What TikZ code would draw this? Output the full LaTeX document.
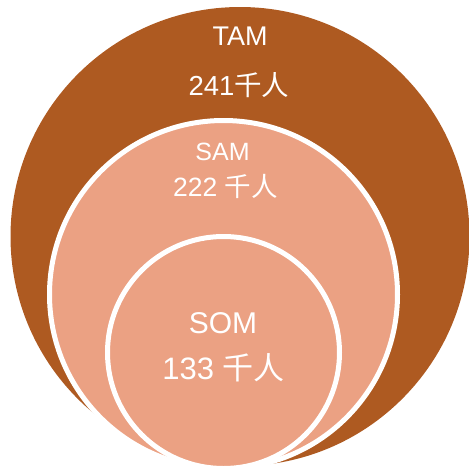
\documentclass[tikz,border=0pt]{standalone}
\usepackage{fontspec}
\setmainfont{Liberation Sans}
\newfontfamily\cjk{Noto Sans CJK SC}
\definecolor{tamc}{RGB}{174,90,33}
\definecolor{samc}{RGB}{235,161,131}
\begin{document}
\begin{tikzpicture}[x=1pt,y=-1pt,
  ring/.style={draw=white,line width=5pt},
  lbl/.style={text=white,anchor=base,inner sep=0pt}]
\useasboundingbox (0,0) rectangle (469,466);
\clip (0,0) rectangle (469,466);
\fill[tamc] (240,236.5) circle[radius=229.5];
\filldraw[fill=samc,ring] (223.5,294.5) circle[radius=174];
\filldraw[fill=samc,ring] (223.5,352.5) circle[radius=116];
\node[lbl,font=\fontsize{27}{30}\selectfont] (tam) at (240,45) {TAM};
\node[lbl,font=\fontsize{27.5}{30}\selectfont] (tamv) at (239,95) {241{\cjk 千人}};
\node[lbl,font=\fontsize{25}{28}\selectfont] (sam) at (222.5,160) {SAM};
\node[lbl,font=\fontsize{26.5}{29}\selectfont] (samv) at (225.5,196) {222 {\cjk 千人}};
\node[lbl,font=\fontsize{30}{33}\selectfont] (som) at (223,333) {SOM};
\node[lbl,font=\fontsize{31}{33}\selectfont] (somv) at (223.5,379) {133 {\cjk 千人}};
\end{tikzpicture}
\end{document}
